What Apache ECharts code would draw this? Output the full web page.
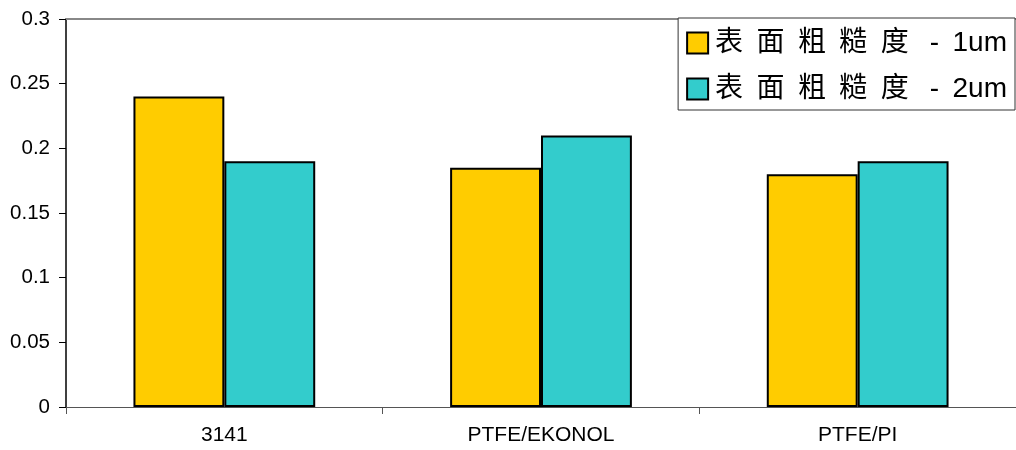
<!DOCTYPE html>
<html><head><meta charset="utf-8">
<script src="https://cdn.jsdelivr.net/npm/echarts@6/dist/echarts.min.js"></script>
<style>html,body{margin:0;padding:0;background:#fff}#c{width:1016px;height:450px}</style>
</head><body><div id="c"></div>
<script>
const categories = ['3141', 'PTFE/EKONOL', 'PTFE/PI'];
const seriesNames = [
  '表 \u2009面 \u2009粗 \u2009糙 \u2009度  \u2009- \u20091um',
  '表 \u2009面 \u2009粗 \u2009糙 \u2009度  \u2009- \u20092um'
];
const rough1um = [0.24, 0.185, 0.18];
const rough2um = [0.19, 0.21, 0.19];
const colors = ['#FFCC00', '#33CCCC'];
const font = "'Liberation Sans', Arial, 'Noto Sans CJK SC', sans-serif";

const chart = echarts.init(document.getElementById('c'), null, {renderer: 'canvas'});
chart.setOption({
  animation: false,
  backgroundColor: '#fff',
  grid: {left: 66, right: -1, top: 19, bottom: 43, containLabel: false},
  legend: {
    orient: 'vertical', right: 1, top: 18,
    padding: [11, 8, 7, 8], itemGap: 18,
    itemWidth: 21, itemHeight: 21, icon: 'rect',
    borderColor: '#333', borderWidth: 1, backgroundColor: '#fff',
    textStyle: {fontSize: 28, color: '#000', fontFamily: font, padding: [0, 0, 0, 2]},
    data: seriesNames
  },
  xAxis: [{
    type: 'category', data: categories,
    axisLine: {lineStyle: {color: '#555', width: 1}},
    axisTick: {show: true, alignWithLabel: false, length: 7, lineStyle: {color: '#555'}},
    axisLabel: {fontSize: 21, color: '#000', fontFamily: font, margin: 18}
  }, {
    type: 'category', data: categories, position: 'top',
    axisLine: {lineStyle: {color: '#888', width: 2}},
    axisTick: {show: false}, axisLabel: {show: false}
  }],
  yAxis: {
    type: 'value', min: 0, max: 0.3, interval: 0.05,
    axisLine: {show: true, lineStyle: {color: '#000', width: 1.5}},
    axisTick: {show: true, length: 7, lineStyle: {color: '#000'}},
    splitLine: {show: false},
    axisLabel: {fontSize: 20.5, color: '#000', fontFamily: font, margin: 16,
      formatter: v => String(Math.round(v * 100) / 100)}
  },
  series: [
    {name: seriesNames[0], type: 'bar', data: rough1um, barGap: '0%', barCategoryGap: '42.6%',
     itemStyle: {color: colors[0], borderColor: '#000', borderWidth: 2}},
    {name: seriesNames[1], type: 'bar', data: rough2um, barGap: '0%', barCategoryGap: '42.6%',
     itemStyle: {color: colors[1], borderColor: '#000', borderWidth: 2}}
  ]
});
</script></body></html>
